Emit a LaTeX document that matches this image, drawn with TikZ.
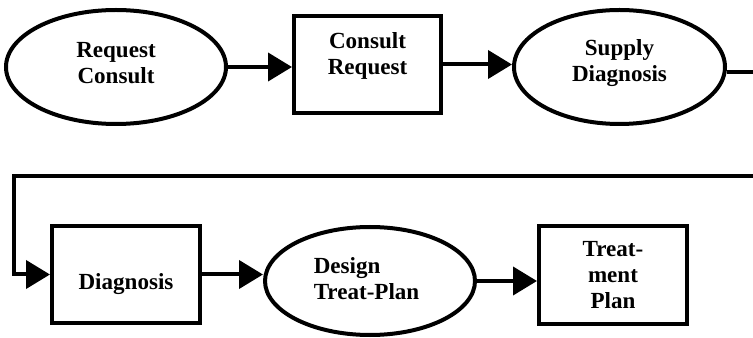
\documentclass[tikz,border=0pt]{standalone}
\usepackage{fontspec}
\setmainfont{Liberation Serif}
\usetikzlibrary{shapes.geometric,arrows.meta}
\begin{document}
\begin{tikzpicture}[x=.75pt, y=-.75pt, >={Triangle[length=18pt,width=21pt]},
  every node/.style={font=\bfseries\fontsize{17.3}{19.5}\selectfont},
  oval/.style={draw, ellipse, line width=3pt, inner sep=0pt},
  box/.style={draw, rectangle, line width=3pt, inner sep=0pt},
  flow/.style={->, line width=3pt}]
\useasboundingbox (0,0) rectangle (753,338);
%Hàng trên
\node[oval, minimum width=165pt, minimum height=85.5pt, label={[align=center, yshift=3pt]center:Request\\Consult}] (req) at (116,67) {};
\node[box, minimum width=110.25pt, minimum height=72.75pt, label={[align=center, yshift=6.75pt]center:Consult\\Request}] (cons) at (367.5,64.5) {};
\node[oval, minimum width=158.25pt, minimum height=85.5pt, label={[align=center, yshift=2.6pt]center:Supply\\Diagnosis}] (sup) at (619.5,67) {};
%Hàng dưới
\node[box, minimum width=111pt, minimum height=72.75pt, label={[yshift=-7pt]center:Diagnosis}] (diag) at (126,274.5) {};
\node[oval, minimum width=157.5pt, minimum height=81pt, label={[align=left, xshift=-2.6pt, yshift=2pt]center:Design\\Treat-Plan}] (des) at (370,281) {};
\node[box, minimum width=111pt, minimum height=73.5pt, label={[align=center]center:Treat-\\ment\\Plan}] (plan) at (613,275) {};
%Các mũi tên
\coordinate (r) at (780,176);
\coordinate (l) at (14,176);
\draw[flow] (req.east) -- (req.east -| cons.west);
\draw[flow] (cons.east) -- (cons.east -| sup.west);
\draw[flow] ([yshift=-3.75pt]sup.east) -| (r) -- (l) |- (diag.west);
\draw[flow] (diag.east) -- (diag.east -| des.west);
\draw[flow] (des.east) -- (des.east -| plan.west);
\end{tikzpicture}
\end{document}
